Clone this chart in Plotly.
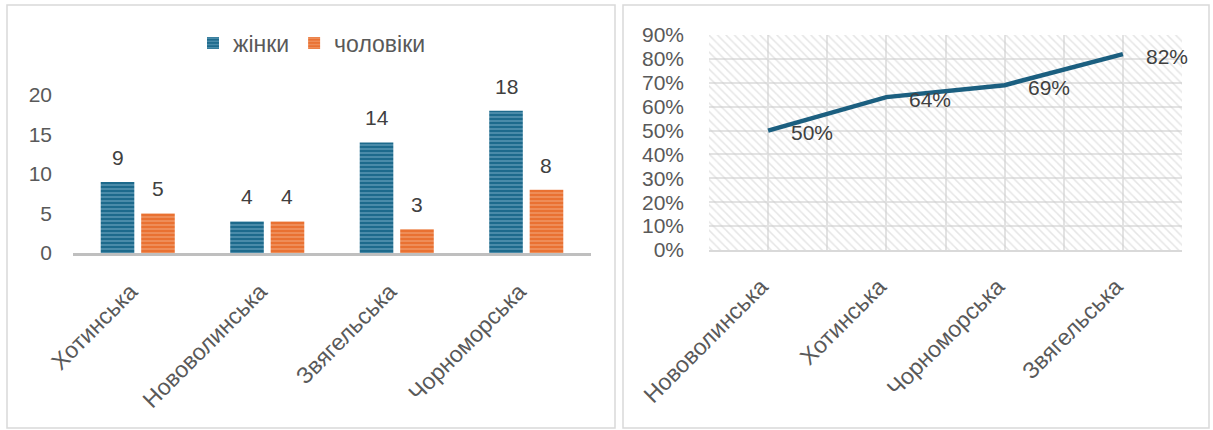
import plotly.graph_objects as go

# ---- data ----
bar_categories = ["Хотинська", "Нововолинська", "Звягельська", "Чорноморська"]
women = [9, 4, 14, 18]
men = [5, 4, 3, 8]
series_names = ["жінки", "чоловіки"]

line_categories = ["Нововолинська", "Хотинська", "Чорноморська", "Звягельська"]
share = [0.50, 0.64, 0.69, 0.82]

W, H = 1213, 430
FONT = "Liberation Sans, Arial, sans-serif"
NUM = 21     # numeric labels
CAT = 23     # cyrillic labels
TXT = "#595959"
LBL = "#404040"
BLUE = "#1d6a8c"
BLUE_L = "#9cc9e0"
ORANGE = "#e97132"
ORANGE_L = "#f7c09c"
LINE = "#1b5f80"

fig = go.Figure()

# left chart: grouped bars
fig.add_trace(go.Bar(
    x=bar_categories, y=women, name=series_names[0],
    marker=dict(color=BLUE, line=dict(width=0),
                pattern=dict(shape="-", fgcolor=BLUE_L, size=4, solidity=0.35)),
    xaxis="x", yaxis="y", hoverinfo="x+y"))
fig.add_trace(go.Bar(
    x=bar_categories, y=men, name=series_names[1],
    marker=dict(color=ORANGE, line=dict(width=0),
                pattern=dict(shape="-", fgcolor=ORANGE_L, size=4, solidity=0.35)),
    xaxis="x", yaxis="y", hoverinfo="x+y"))

# right chart background hatch (fills the plot area up to the axis max)
y2max = 0.9
xi = list(range(len(line_categories)))
fig.add_trace(go.Bar(
    x=xi, y=[y2max] * len(xi), width=1, showlegend=False, hoverinfo="skip",
    marker=dict(color="rgba(0,0,0,0)", line=dict(width=0),
                pattern=dict(shape="\\", fgcolor="#cccccc", bgcolor="rgba(0,0,0,0)",
                             size=6, solidity=0.25)),
    xaxis="x2", yaxis="y2"))

fig.add_trace(go.Scatter(
    x=xi, y=share, mode="lines", showlegend=False,
    line=dict(color=LINE, width=4.5),
    xaxis="x2", yaxis="y2"))

annotations = []
for i, c in enumerate(bar_categories):
    annotations.append(dict(x=c, y=women[i], xref="x", yref="y", text=str(women[i]),
                            showarrow=False, xanchor="center", yanchor="bottom",
                            xshift=-20, yshift=11, font=dict(size=NUM, color=LBL, family=FONT)))
    annotations.append(dict(x=c, y=men[i], xref="x", yref="y", text=str(men[i]),
                            showarrow=False, xanchor="center", yanchor="bottom",
                            xshift=20, yshift=11, font=dict(size=NUM, color=LBL, family=FONT)))
for i, v in enumerate(share):
    annotations.append(dict(x=i, y=v, xref="x2", yref="y2", text=f"{round(v*100)}%",
                            showarrow=False, xanchor="left", yanchor="middle",
                            xshift=21, yshift=-2, font=dict(size=NUM, color=LBL, family=FONT)))

shapes = [
    dict(type="rect", xref="paper", yref="paper", x0=7/W, x1=615/W, y0=2/H, y1=(H-5)/H,
         line=dict(color="#d9d9d9", width=1.5), layer="below"),
    dict(type="rect", xref="paper", yref="paper", x0=623/W, x1=1209/W, y0=2/H, y1=(H-5)/H,
         line=dict(color="#d9d9d9", width=1.5), layer="below"),
]

fig.update_layout(
    width=W, height=H, margin=dict(l=0, r=0, t=0, b=0, autoexpand=False),
    paper_bgcolor="white", plot_bgcolor="rgba(0,0,0,0)",
    font=dict(family=FONT, size=NUM, color=TXT),
    barmode="group", bargap=0.375, bargroupgap=0.17,
    showlegend=True,
    legend=dict(orientation="h", x=312/W, xanchor="center", y=(H-43)/H, yanchor="middle",
                font=dict(size=CAT, color=TXT), itemwidth=30, bgcolor="rgba(0,0,0,0)"),
    xaxis=dict(domain=[73/W, 591/W], anchor="y", type="category", automargin=False,
               showgrid=False, showline=True, linecolor="#bfbfbf", linewidth=3,
               tickangle=-45, ticks="", ticklabelstandoff=13, ticklabelshift=-7,
               tickfont=dict(size=CAT, color=TXT), zeroline=False),
    yaxis=dict(domain=[(H-253)/H, (H-95)/H], anchor="x", range=[0, 20], automargin=False,
               tickvals=[0, 5, 10, 15, 20], showgrid=False, zeroline=False,
               showline=False, ticks="", ticklabelstandoff=20,
               tickfont=dict(size=NUM, color=TXT)),
    xaxis2=dict(domain=[709/W, 1182/W], anchor="y2", range=[-0.5, 3.5], automargin=False,
                tickvals=xi, ticktext=line_categories, tickangle=-45, ticks="",
                showgrid=True, gridcolor="#e3e3e3", gridwidth=1.5,
                minor=dict(tickvals=[-0.5, 0.5, 1.5, 2.5, 3.5], showgrid=True,
                           gridcolor="#e3e3e3", gridwidth=1.5, ticks=""),
                showline=True, linecolor="#d9d9d9", linewidth=2, zeroline=False,
                ticklabelstandoff=12, ticklabelshift=-7, tickfont=dict(size=CAT, color=TXT)),
    yaxis2=dict(domain=[(H-250)/H, (H-35)/H], anchor="x2", range=[0, y2max], automargin=False,
                dtick=0.1, tickformat=".0%", showgrid=True, gridcolor="#e3e3e3",
                gridwidth=1.5, zeroline=False, ticks="", ticklabelstandoff=24,
                tickfont=dict(size=NUM, color=TXT)),
    annotations=annotations, shapes=shapes,
)

fig.write_html("out.html", config={"displayModeBar": False},
               post_script="document.body.style.margin='0';document.body.style.overflow='hidden';")
